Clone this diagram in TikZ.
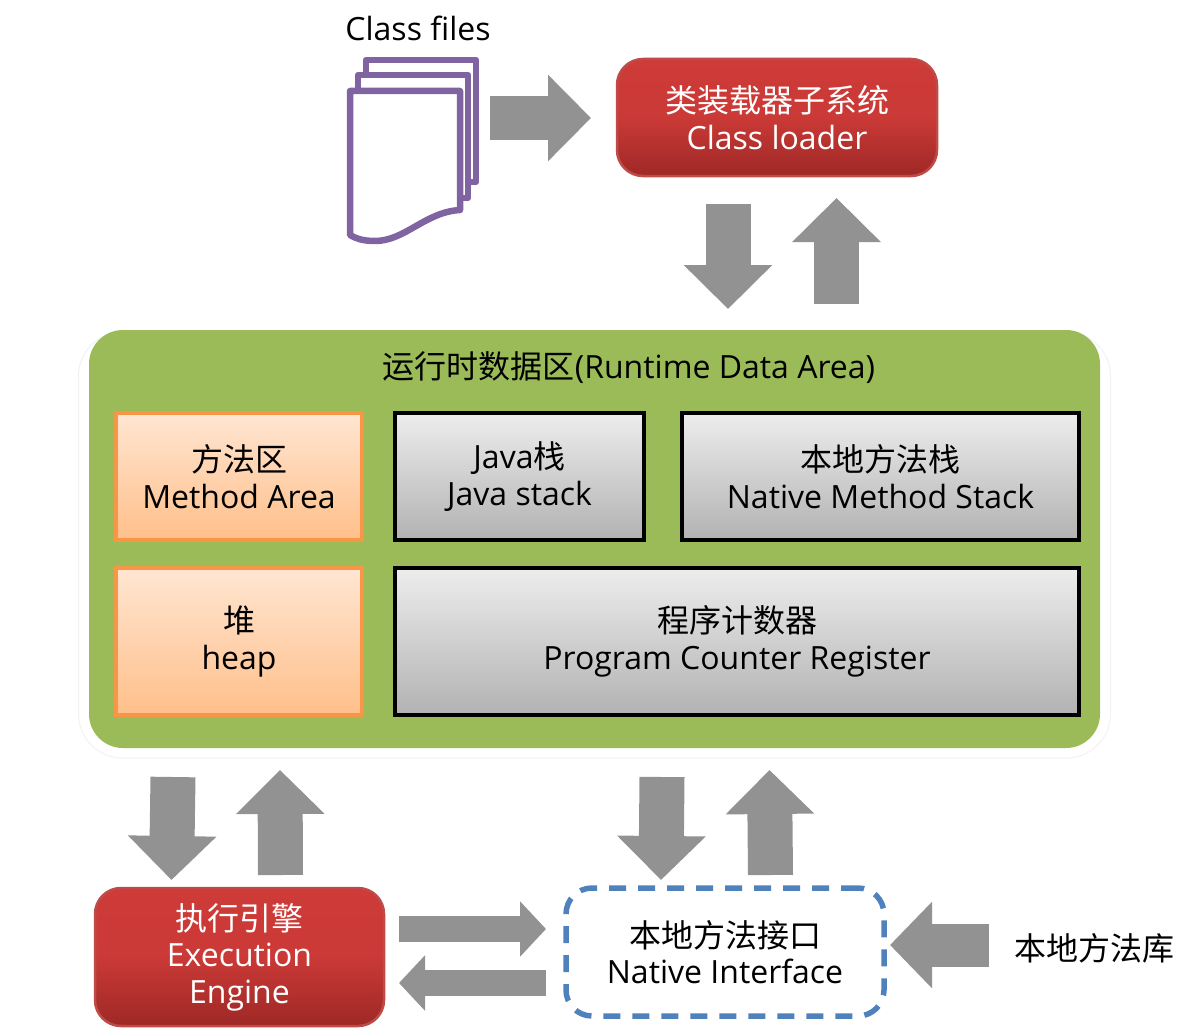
\documentclass[tikz,border=0pt]{standalone}
\usepackage{fontspec}
\setmainfont{Open Sans}
\newfontfamily\cjk{Noto Sans CJK SC}
\usetikzlibrary{arrows.meta, calc}
\definecolor{redtop}{HTML}{CE3B38}
\definecolor{redbot}{HTML}{9E2826}
\definecolor{redline}{HTML}{BE4B48}
\definecolor{peachtop}{HTML}{FFE6D2}
\definecolor{peachbot}{HTML}{FFBF8A}
\definecolor{peachline}{HTML}{F79646}
\definecolor{greytop}{HTML}{EDEDED}
\definecolor{greybot}{HTML}{B2B2B2}
\definecolor{areagreen}{HTML}{9BBB59}
\definecolor{pagepurple}{HTML}{8064A2}
\definecolor{dashblue}{HTML}{4F81BD}
\definecolor{arrowgrey}{HTML}{929292}
\tikzset{
    box/.style={rectangle, align=center, inner sep=0pt, outer sep=0pt,
        font=\fontsize{32}{36.5}\selectfont},
    redbox/.style={box, rounded corners=26pt, draw=redline, line width=2.5pt, text=white,
        top color=redtop, bottom color=redbot, middle color=redtop!92!redbot},
    peachbox/.style={box, draw=peachline, line width=3.5pt, top color=peachtop, bottom color=peachbot},
    greybox/.style={box, draw=black, line width=3.5pt, top color=greytop, bottom color=greybot},
    bigarrow/.style={draw=arrowgrey, line width=#1},
    bigarrow/.default=45pt,
    updown/.style={bigarrow=45pt, -{Triangle[length=44pt,width=86pt]}},
    sideways/.style={bigarrow=26pt, -{Triangle[length=26pt,width=54pt]}},
    pagesheet/.style={draw=pagepurple, line width=6.5pt, fill=white, line join=round}
}

\begin{document}
\begin{tikzpicture}[x=1pt,y=-1pt]
    \useasboundingbox (0,0) rectangle (1201,1030);

    \node[box] (classfiles) at (418,28) {Class files};

    % the three sheets, back to front
    \draw[pagesheet] (366,60) -- (476,60) -- (476,182) -- (366,182) -- cycle;
    \draw[pagesheet] (358,75) -- (468,75) -- (468,198) -- (358,198) -- cycle;
    \draw[pagesheet] (350,91) -- (460,91) -- (460,210)
        .. controls (425,212) and (405,241) .. (375,241)
        .. controls (362,241) and (355,238) .. (350,235) -- cycle;
    \coordinate (sheets) at (490,118);

    \node[redbox, minimum width=320pt, minimum height=117pt] (loader) at (777,117.5)
        {{\cjk 类装载器子系统}\\Class loader};

    \node[box, rounded corners=44pt, draw=black!5, line width=1pt, fill=white,
        minimum width=1032pt, minimum height=426pt] at (594.5,545) (halo) {};
    \node[box, rounded corners=34pt, fill=areagreen,
        minimum width=1011pt, minimum height=418pt] (dataarea) at (594.5,539) {};
    \node[box] (areatitle) at (629,368) {{\cjk 运行时数据区}(Runtime Data Area)};

    \node[peachbox, minimum width=246pt, minimum height=127pt] (method) at (239,476.5)
        {{\cjk 方法区}\\Method Area};
    \node[greybox, minimum width=249pt, minimum height=127pt] (javastack) at (519.5,476.5)
        {Java{\cjk 栈}\\Java stack};
    \node[greybox, minimum width=397pt, minimum height=127pt] (nativestack) at (880.5,476.5)
        {{\cjk 本地方法栈}\\Native Method Stack};
    \node[peachbox, minimum width=246pt, minimum height=147pt] (heap) at (239,641.5)
        {{\cjk 堆}\\heap};
    \node[greybox, minimum width=684pt, minimum height=147pt] (counter) at (737,641.5)
        {{\cjk 程序计数器}\\Program Counter Register};

    \node[redbox, minimum width=289pt, minimum height=138pt] (engine) at (239.5,957)
        {{\cjk 执行引擎}\\Execution\\Engine};
    \node[box, rounded corners=26pt, draw=dashblue, line width=5.5pt, fill=white,
        dash pattern=on 17pt off 12pt,
        minimum width=318pt, minimum height=128pt] (nativeif) at (725,952)
        {{\cjk 本地方法接口}\\Native Interface};
    \node[box] (nativelib) at (1094,948) {\cjk 本地方法库};

    % block arrows
    \draw[bigarrow=44pt, -{Triangle[length=43pt,width=84pt]}] (sheets) -- ($(loader.west)+(-26,0.5)$);
    \draw[updown] ($(loader.south)+(-49,28)$) -- ($(dataarea.north)+(133.5,-21)$);
    \draw[updown] ($(dataarea.north)+(242,-26)$) -- ($(loader.south)+(59.5,22)$);
    \draw[updown] ($(dataarea.south west)+(84,29)$) -- ($(engine.north)+(-68,-8)$);
    \draw[updown] ($(engine.north)+(41,-13)$) -- ($(dataarea.south west)+(191,22)$);
    \draw[updown] ($(dataarea.south)+(67.5,29)$) -- ($(nativeif.north)+(-64,-8)$);
    \draw[updown] ($(nativeif.north)+(45.5,-13)$) -- ($(dataarea.south)+(175,22)$);
    \draw[sideways] ($(engine.east)+(15,-28)$) -- ($(nativeif.west)+(-20,-23)$);
    \draw[sideways] ($(nativeif.west)+(-20,31)$) -- ($(engine.east)+(15,26)$);
    \draw[bigarrow=43pt, -{Triangle[length=42pt,width=84pt]}] ($(nativelib.west)+(-25,-3)$) -- ($(nativeif.east)+(6,-7)$);
\end{tikzpicture}
\end{document}
